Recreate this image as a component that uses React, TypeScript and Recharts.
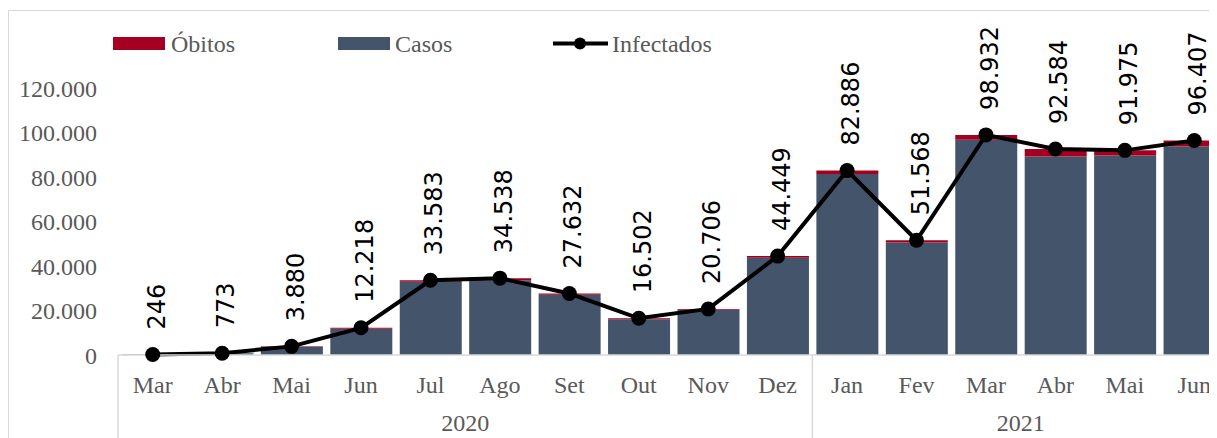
import React from "react";
import {
  ComposedChart,
  Bar,
  Line,
  XAxis,
  YAxis,
  Legend,
  LabelList,
} from "recharts";

const months = ["Mar", "Abr", "Mai", "Jun", "Jul", "Ago", "Set", "Out", "Nov", "Dez", "Jan", "Fev", "Mar", "Abr", "Mai", "Jun"];
const years = ["2020", "2020", "2020", "2020", "2020", "2020", "2020", "2020", "2020", "2020", "2021", "2021", "2021", "2021", "2021", "2021"];
const casos = [241, 743, 3680, 11818, 32883, 33638, 27032, 16102, 20306, 43749, 81386, 50568, 96732, 89184, 89675, 93707];
const obitos = [5, 30, 200, 400, 700, 900, 600, 400, 400, 700, 1500, 1000, 2200, 3400, 2300, 2700];
const infectados = [246, 773, 3880, 12218, 33583, 34538, 27632, 16502, 20706, 44449, 82886, 51568, 98932, 92584, 91975, 96407];
const yTicks = [0, 20000, 40000, 60000, 80000, 100000, 120000];

const RED = "#A50021";
const BLUE = "#44546A";
const GRAY_TEXT = "#595959";
const GRID = "#d9d9d9";
const SERIF = "'Liberation Serif', serif";
const SANS = "'DejaVu Sans', sans-serif";

const data = months.map((m, i) => ({
  key: `${m}-${years[i]}`,
  month: m,
  year: years[i],
  casos: casos[i],
  obitos: obitos[i],
  infectados: infectados[i],
}));

const fmt = (v: number) => String(v).replace(/\B(?=(\d{3})+(?!\d))/g, ".");

const MonthTick = (props: any) => {
  const { x, y, payload, index } = props;
  const half = payload.offset || 0;
  const row = data[index];
  const prev = index > 0 ? data[index - 1] : null;
  const firstOfYear = !prev || prev.year !== row.year;
  // year label goes under the middle of its group of months
  const group = data.filter((d) => d.year === row.year);
  const startIdx = data.findIndex((d) => d.year === row.year);
  const isMidLeft = index === startIdx + Math.floor((group.length - 1) / 2);
  const yearX = group.length % 2 === 0 ? x + half : x;
  return (
    <g>
      <text x={x} y={y + 38} textAnchor="middle" fill={GRAY_TEXT} fontSize={24} fontFamily={SERIF}>
        {row.month}
      </text>
      {firstOfYear && (
        <line x1={x - half} x2={x - half} y1={y} y2={y + 120} stroke={GRID} strokeWidth={1.5} />
      )}
      {isMidLeft && (
        <text x={yearX} y={y + 76} textAnchor="middle" fill={GRAY_TEXT} fontSize={24} fontFamily={SERIF}>
          {row.year}
        </text>
      )}
    </g>
  );
};

const RotatedLabel = (props: any) => {
  const { x, y, value } = props;
  const ly = y - 25;
  return (
    <text
      x={x}
      y={ly}
      dy="0.5em"
      transform={`rotate(-90, ${x}, ${ly})`}
      textAnchor="start"
      fill="#000"
      fontSize={24}
      fontFamily={SANS}
    >
      {fmt(value)}
    </text>
  );
};

const renderLegend = () => (
  <svg width={760} height={32}>
    <rect x={105} y={9} width={52} height={13} fill={RED} />
    <text x={163} y={24} fill={GRAY_TEXT} fontSize={24} fontFamily={SERIF}>Óbitos</text>
    <rect x={330} y={9} width={52} height={13} fill={BLUE} />
    <text x={387} y={24} fill={GRAY_TEXT} fontSize={24} fontFamily={SERIF}>Casos</text>
    <line x1={545} x2={600} y1={15.5} y2={15.5} stroke="#000" strokeWidth={4} />
    <circle cx={572} cy={15.5} r={6} fill="#000" />
    <text x={604} y={24} fill={GRAY_TEXT} fontSize={24} fontFamily={SERIF}>Infectados</text>
  </svg>
);

export default function App() {
  return (
    <div style={{ position: "relative", width: 1209, height: 430, overflow: "hidden", background: "#fff" }}>
      <div
        style={{
          position: "absolute",
          top: 2,
          left: 0,
          width: 1400,
          height: 600,
          border: `1.5px solid ${GRID}`,
          boxSizing: "border-box",
        }}
      />
      <div style={{ position: "absolute", top: 0, left: 0 }}>
        <ComposedChart
          width={1222}
          height={460}
          data={data}
          margin={{ top: 80, right: 1, bottom: 0, left: 0 }}
          barSize={62}
        >
          <XAxis
            dataKey="key"
            interval={0}
            height={113}
            tickLine={false}
            tickSize={0}
            tickMargin={0}
            axisLine={{ stroke: GRID, strokeWidth: 1.5 }}
            tick={<MonthTick />}
          />
          <YAxis
            width={110}
            domain={[0, 120000]}
            ticks={yTicks}
            axisLine={false}
            tickLine={false}
            tickSize={0}
            tickMargin={21}
            tickFormatter={fmt}
            tick={{ fill: GRAY_TEXT, fontSize: 24, fontFamily: SERIF }}
          />
          <Legend
            verticalAlign="middle"
            align="center"
            layout="horizontal"
            wrapperStyle={{ top: 20, left: 0, width: 760 }}
            content={renderLegend}
          />
          <Bar dataKey="casos" name="Casos" stackId="a" fill={BLUE} isAnimationActive={false} />
          <Bar dataKey="obitos" name="Óbitos" stackId="a" fill={RED} isAnimationActive={false} />
          <Line
            dataKey="infectados"
            name="Infectados"
            type="linear"
            stroke="#000"
            strokeWidth={4}
            dot={{ r: 7.5, fill: "#000", stroke: "#000", strokeWidth: 0 }}
            activeDot={false}
            isAnimationActive={false}
          >
            <LabelList dataKey="infectados" content={<RotatedLabel />} />
          </Line>
        </ComposedChart>
      </div>
    </div>
  );
}
